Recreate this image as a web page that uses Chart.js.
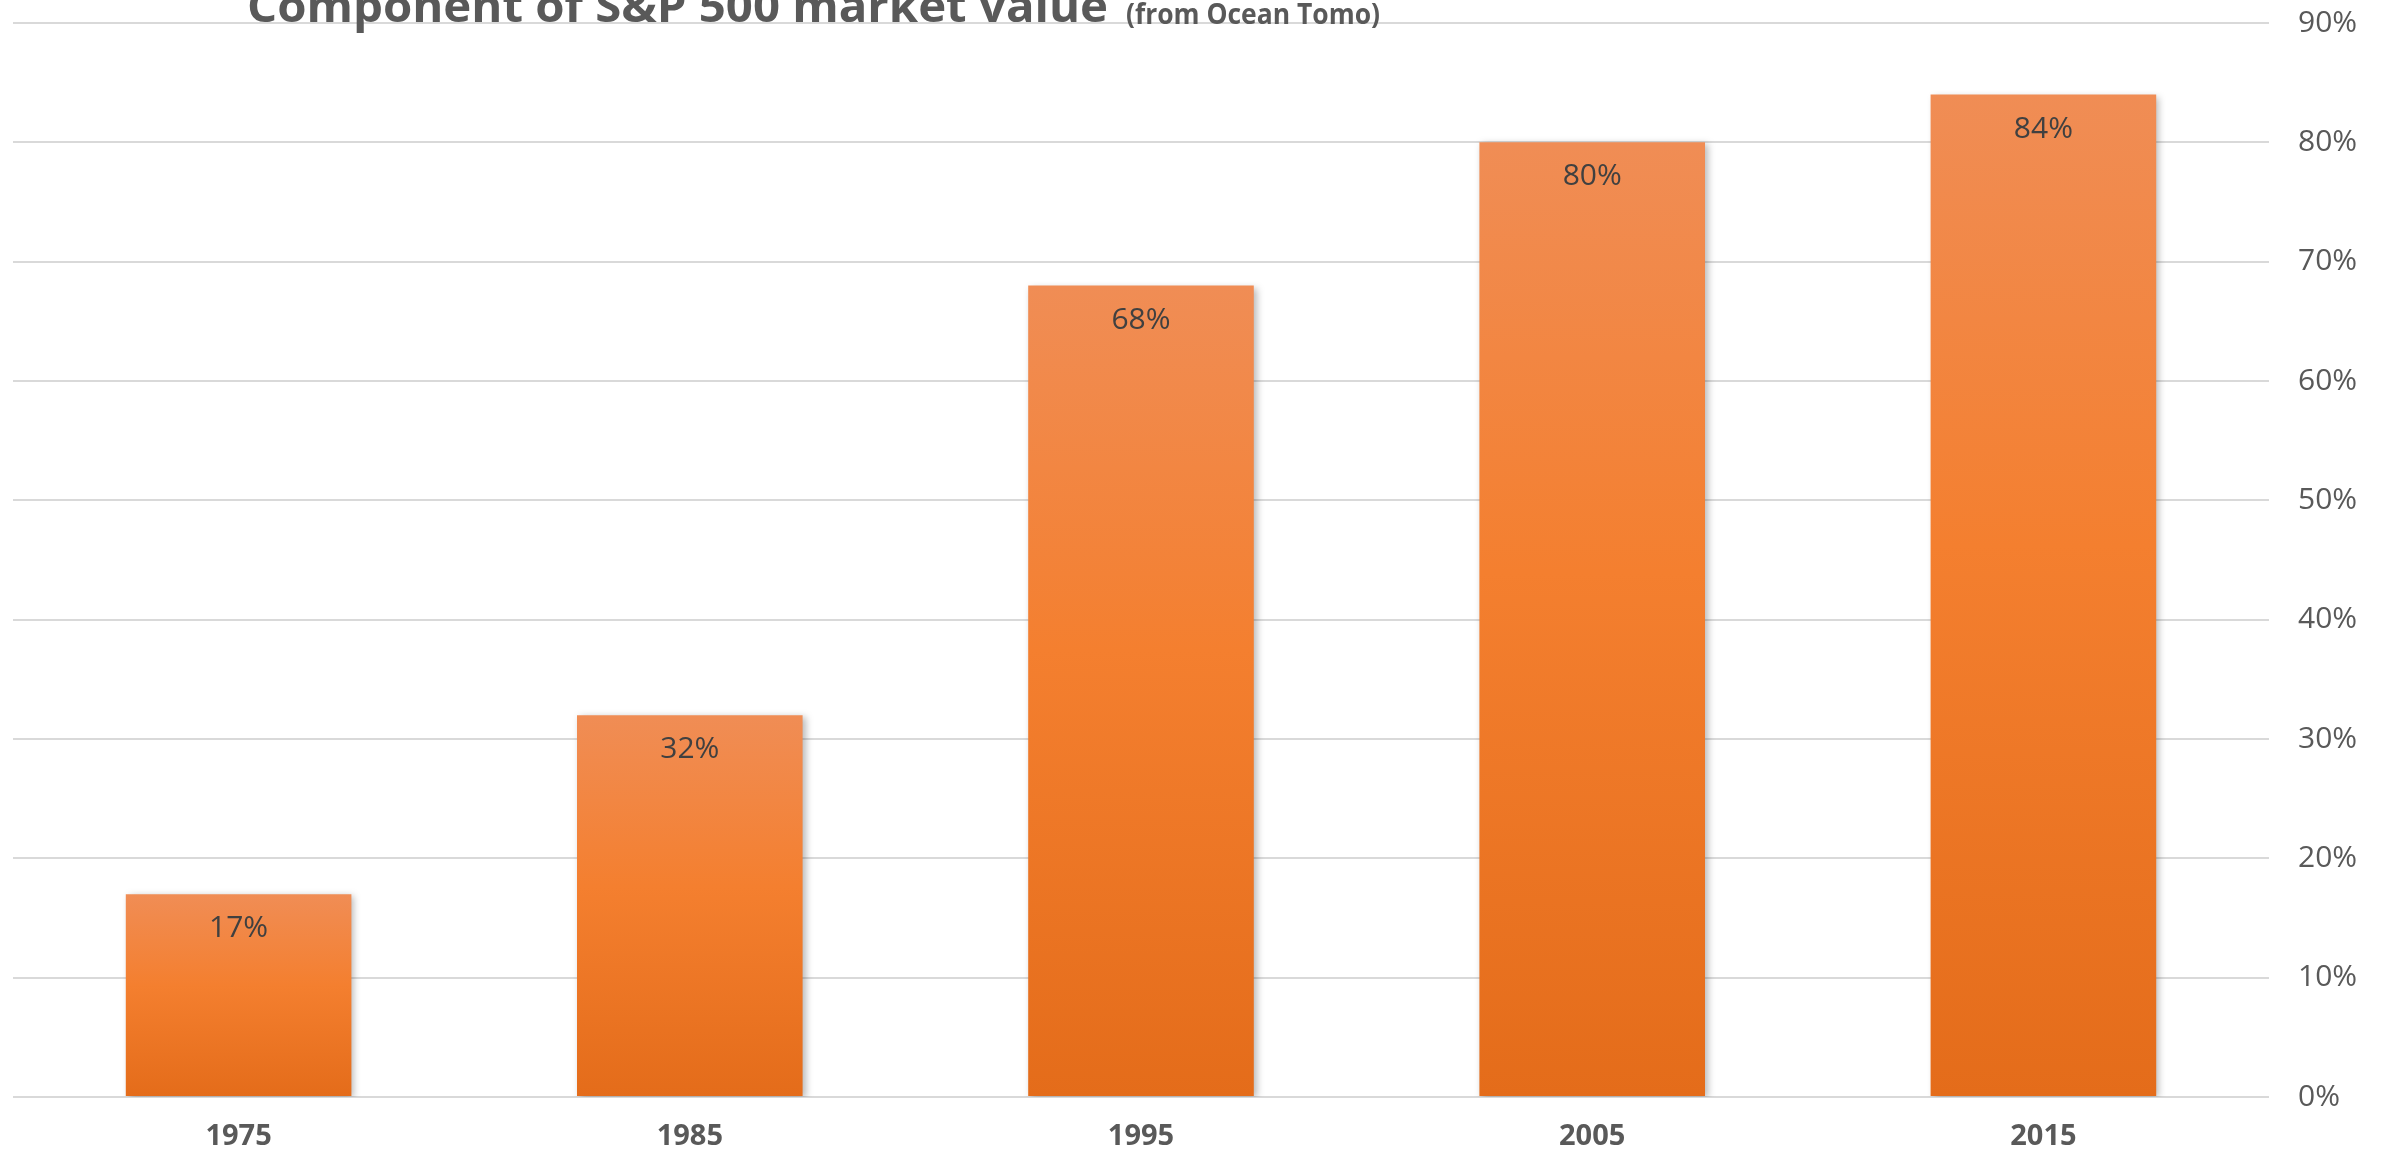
<!DOCTYPE html>
<html>
<head>
<meta charset="utf-8">
<script src="https://cdn.jsdelivr.net/npm/chart.js@4.4.1/dist/chart.umd.min.js"></script>
<style>
  html, body { margin:0; padding:0; background:#fff; overflow:hidden; }
  #wrap { position:relative; width:2391px; height:1154px; }
</style>
</head>
<body>
<div id="wrap"><canvas id="c"></canvas></div>
<script>
/* ── Datos ── */
const YEARS   = ['1975','1985','1995','2005','2015'];
const VALUES  = [0.17, 0.32, 0.68, 0.80, 0.84];
const Y_TICKS = [0, 0.1, 0.2, 0.3, 0.4, 0.5, 0.6, 0.7, 0.8, 0.9];
const TITLE    = 'Component of S&P 500 market value';
const SUBTITLE = '(from Ocean Tomo)';

const FONT = "'Open Sans', 'DejaVu Sans', sans-serif";
const GRID = '#d9d9d9', TXT = '#595959';

/* gradient per bar, light on top, darker at base */
function barFill(ctx) {
  const chart = ctx.chart, y = chart.scales.y;
  if (!y || !ctx.parsed) return '#f37e2a';
  const top = y.getPixelForValue(ctx.parsed.y), base = y.getPixelForValue(0);
  if (!isFinite(top) || !isFinite(base) || top === base) return '#f37e2a';
  const g = chart.ctx.createLinearGradient(0, top, 0, base);
  g.addColorStop(0, '#f08d55');
  g.addColorStop(0.45, '#f47f2f');
  g.addColorStop(1, '#e46c1a');
  return g;
}

/* sombra de las barras */
const shadowPlugin = {
  id:'shadow',
  beforeDatasetsDraw(chart) {
    const c = chart.ctx; c.save();
    c.shadowColor = 'rgba(0,0,0,0.28)'; c.shadowBlur = 7; c.shadowOffsetX = 3; c.shadowOffsetY = 2;
  },
  afterDatasetsDraw(chart) { chart.ctx.restore(); }
};

/* etiquetas de valor dentro de la barra */
const labelPlugin = {
  id:'vlabels',
  afterDatasetsDraw(chart) {
    const c = chart.ctx, meta = chart.getDatasetMeta(0);
    c.save();
    c.font = `30px ${FONT}`; c.fillStyle = '#404040';
    c.textAlign = 'center'; c.textBaseline = 'alphabetic';
    meta.data.forEach((bar, i) => c.fillText(Math.round(VALUES[i]*100) + '%', bar.x, bar.y + 43));
    c.restore();
  }
};

/* título cortado arriba, como en el original */
const titlePlugin = {
  id:'toptitle',
  afterDraw(chart) {
    const c = chart.ctx;
    c.save();
    c.fillStyle = TXT; c.textBaseline = 'alphabetic'; c.textAlign = 'left';
    c.font = `bold 44px ${FONT}`;
    let w = c.measureText(TITLE).width;
    c.save(); c.translate(247, 22); c.scale(861 / w, 1); c.fillText(TITLE, 0, 0); c.restore();
    c.font = `bold 28px ${FONT}`;
    w = c.measureText(SUBTITLE).width;
    c.save(); c.translate(1126, 24); c.scale(254 / w, 1); c.fillText(SUBTITLE, 0, 0); c.restore();
    c.restore();
  }
};

new Chart(document.getElementById('c'), {
  type:'bar',
  data:{ labels:YEARS, datasets:[{ data:VALUES, backgroundColor:barFill, borderWidth:0,
    barPercentage:0.5, categoryPercentage:1.0 }] },
  options:{
    responsive:true, maintainAspectRatio:false, animation:false, devicePixelRatio:1,
    layout:{ padding:{ left:13, top:23, right:0, bottom:0 } },
    plugins:{ legend:{ display:false }, tooltip:{ enabled:false } },
    scales:{
      x:{
        grid:{ display:false, drawTicks:false },
        border:{ display:false },
        ticks:{ color:TXT, padding:22, font:{ family:FONT, size:29, weight:'bold' } },
        afterFit(s){ s.height = 57; s.paddingLeft = 0; s.paddingRight = 0; }
      },
      y:{
        position:'right', min:0, max:0.9,
        afterBuildTicks(s){ s.ticks = Y_TICKS.map(v => ({ value:v })); },
        grid:{ color:GRID, lineWidth:2, drawTicks:false },
        border:{ display:false },
        ticks:{ color:TXT, padding:29, font:{ family:FONT, size:30 },
          callback:v => Math.round(v*100) + '%' },
        afterFit(s){ s.width = 122; s.paddingTop = 0; s.paddingBottom = 0; }
      }
    }
  },
  plugins:[shadowPlugin, labelPlugin, titlePlugin]
});
</script>
</body>
</html>
